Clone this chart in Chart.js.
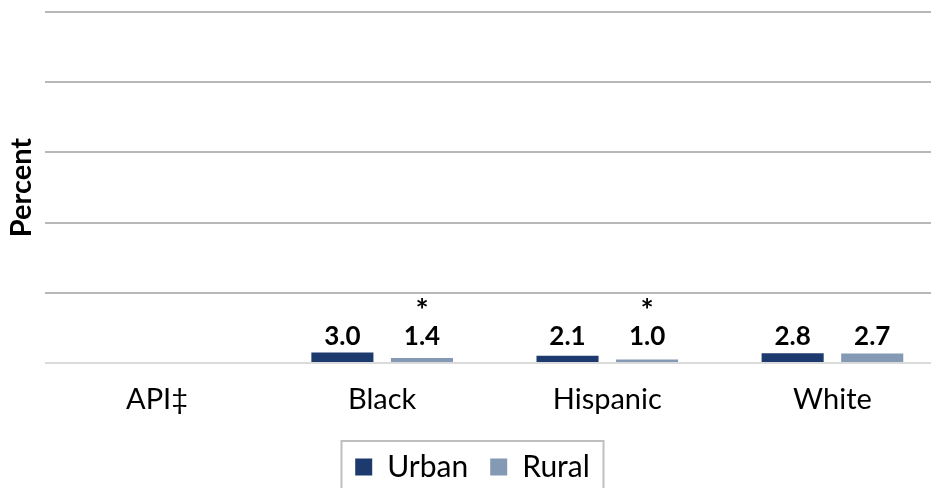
<!DOCTYPE html>
<html>
<head>
<meta charset="utf-8">
<script src="https://cdn.jsdelivr.net/npm/chart.js@4"></script>
<style>
  html, body { margin: 0; padding: 0; background: #fff; }
  #wrap { width: 931px; height: 488px; overflow: hidden; position: relative; }
  #box { width: 945px; height: 492px; }
</style>
</head>
<body>
<div id="wrap"><div id="box"><canvas id="diagram"></canvas></div></div>
<script>
// data
const categories = ['API\u2021', 'Black', 'Hispanic', 'White'];
const urbanValues = [null, 3.0, 2.1, 2.8];
const ruralValues = [null, 1.4, 1.0, 2.7];
const urbanFlags = [false, false, false, false];
const ruralFlags = [false, true, true, false];
const yTicks = [0, 20, 40, 60, 80, 100];

const FONT = 'Lato, "Open Sans", sans-serif';

/**
* Ritar värden (och asterisk) ovanför staplarna
*/
const valueLabels = {
    id: 'valueLabels',
    afterDatasetsDraw(chart) {
        const ctx = chart.ctx;
        const base = chart.scales.y.getPixelForValue(0);
        const flags = [urbanFlags, ruralFlags];
        ctx.save();
        ctx.fillStyle = '#000';
        ctx.textAlign = 'center';
        ctx.textBaseline = 'alphabetic';
        chart.data.datasets.forEach((ds, i) => {
            chart.getDatasetMeta(i).data.forEach((bar, j) => {
                const v = ds.data[j];
                if (v === null) return;
                ctx.font = 'bold 26px ' + FONT;
                ctx.fillText(v.toFixed(1), bar.x, base - 18);
                if (flags[i][j]) {
                    ctx.font = 'bold 31px ' + FONT;
                    ctx.fillText('*', bar.x, base - 42);
                }
            });
        });
        ctx.restore();
    }
};

/**
* Ram runt förklaringen
*/
const legendBox = {
    id: 'legendBox',
    afterDraw(chart) {
        const l = chart.legend;
        const ctx = chart.ctx;
        const w = 262;
        const x = l.left + l.width / 2 - w / 2;
        ctx.save();
        ctx.strokeStyle = '#bfbfbf';
        ctx.lineWidth = 2;
        ctx.strokeRect(x, 441, w, 60);
        ctx.restore();
    }
};

function createChart() {
    const ctx = document.getElementById('diagram').getContext('2d');
    new Chart(ctx, {
        type: 'bar',
        data: {
            labels: categories,
            datasets: [
                {
                    label: 'Urban',
                    data: urbanValues,
                    backgroundColor: '#1d3a6e',
                    categoryPercentage: 0.707,
                    barPercentage: 0.78
                },
                {
                    label: 'Rural',
                    data: ruralValues,
                    backgroundColor: '#8399b4',
                    categoryPercentage: 0.707,
                    barPercentage: 0.78
                }
            ]
        },
        options: {
            responsive: true,
            maintainAspectRatio: false,
            animation: false,
            layout: { padding: { top: 12, left: 0, right: 0, bottom: 0 } },
            plugins: {
                tooltip: { enabled: false },
                legend: {
                    position: 'bottom',
                    labels: {
                        color: '#000',
                        font: { family: FONT, size: 30 },
                        boxWidth: 17,
                        boxHeight: 17,
                        padding: 22
                    }
                }
            },
            scales: {
                x: {
                    grid: { display: false },
                    border: { display: false },
                    ticks: {
                        color: '#000',
                        font: { family: FONT, size: 29 },
                        padding: 11
                    },
                    afterFit(scale) { scale.height = 67; }
                },
                y: {
                    min: 0,
                    max: 100,
                    afterBuildTicks(scale) {
                        scale.ticks = yTicks.map(v => ({ value: v }));
                    },
                    ticks: { display: false },
                    border: { display: false },
                    grid: {
                        drawTicks: false,
                        lineWidth: 2,
                        color: c => c.tick && c.tick.value === 0 ? '#dadada' : '#b8b8b8'
                    },
                    title: {
                        display: true,
                        text: 'Percent',
                        color: '#000',
                        font: { family: FONT, size: 29, weight: 'bold' },
                        padding: { top: 4, bottom: 0 }
                    },
                    afterFit(scale) { scale.width = 44.5; }
                }
            }
        },
        plugins: [valueLabels, legendBox]
    });
}

window.onload = createChart;
</script>
</body>
</html>
